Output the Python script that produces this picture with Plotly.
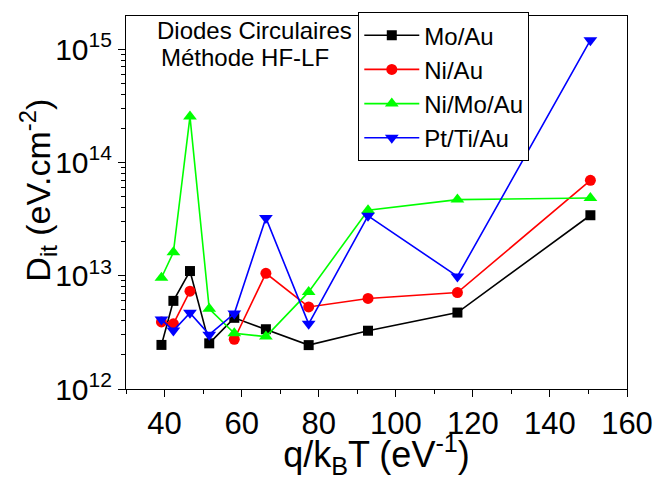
import plotly.graph_objects as go

# Inverse thermal energy q/kT (eV^-1)
q_kt = [39.2, 42.3, 46.6, 51.6, 58.1, 66.3, 77.4, 92.8, 116.0, 150.5]

# Interface state density Dit (eV^-1 cm^-2) per metallisation
dit_mo_au = [2.45e12, 6.0e12, 1.1e13, 2.53e12, 4.25e12, 3.37e12, 2.44e12, 3.27e12, 4.73e12, 3.42e13]
dit_ni_au = [3.91e12, 3.76e12, 7.3e12, None, 2.75e12, 1.05e13, 5.3e12, 6.3e12, 7.1e12, 6.95e13]
dit_ni_mo_au = [9.6e12, 1.61e13, 2.54e14, 5.1e12, 3.1e12, 2.9e12, 7.2e12, 3.78e13, 4.7e13, 4.86e13]
dit_pt_ti_au = [4.1e12, 3.28e12, 4.7e12, 3.02e12, 4.64e12, 3.24e13, 3.76e12, 3.38e13, 9.86e12, 1.2e15]

series_names = ["Mo/Au", "Ni/Au", "Ni/Mo/Au", "Pt/Ti/Au"]
series_colors = ["#000000", "#FF0000", "#00FF00", "#0000FF"]
series_symbols = ["square", "circle", "triangle-up", "triangle-down"]
series_sizes = [10, 11, 12, 12]

y_tick_vals = [1e12, 1e13, 1e14, 1e15]
y_tick_text = ["10<sup>12</sup>", "10<sup>13</sup>", "10<sup>14</sup>", "10<sup>15</sup>"]
y_minor_vals = [m * 10 ** e for e in range(12, 16) for m in range(2, 10)]

FONT = "Liberation Sans, Arial, sans-serif"

fig = go.Figure()
for name, vals, color, symbol, size in zip(
    series_names,
    [dit_mo_au, dit_ni_au, dit_ni_mo_au, dit_pt_ti_au],
    series_colors, series_symbols, series_sizes,
):
    fig.add_trace(go.Scatter(
        x=q_kt, y=vals, name=name, mode="lines+markers",
        line=dict(color=color, width=1.6),
        marker=dict(symbol=symbol, color=color, size=size, line=dict(width=0)),
        connectgaps=False,
    ))

# Plot area in pixels: left 126, right 635, top 12, bottom 394
L, R, T, B = 126, 635, 12, 394
W, H = 665, 480

def px_x(px):
    return (px - L) / (R - L)

def px_y(py):
    return (B - py) / (B - T)

fig.update_layout(
    width=W, height=H,
    margin=dict(l=L, r=W - R, t=T, b=H - B),
    paper_bgcolor="white", plot_bgcolor="white",
    font=dict(family=FONT, color="black"),
    showlegend=True,
    legend=dict(
        x=px_x(362), y=px_y(8), xanchor="left", yanchor="top",
        bordercolor="black", borderwidth=1, bgcolor="white",
        font=dict(size=24, family=FONT), tracegroupgap=0,
        itemwidth=55,
    ),
    xaxis=dict(
        range=[30, 160], tickmode="linear", tick0=40, dtick=20,
        showgrid=False, zeroline=False,
        showline=True, linecolor="black", linewidth=1.2, mirror=True,
        ticks="outside", ticklen=7, tickwidth=1.2, tickcolor="black",
        tickfont=dict(size=31, family=FONT),
        minor=dict(ticks="outside", ticklen=4, tickwidth=1.2, tickcolor="black",
                   tick0=30, dtick=10, showgrid=False),
        title=dict(text="q/k<sub>B</sub>T (eV<sup>-1</sup>)",
                   font=dict(size=36, family=FONT), standoff=2),
    ),
    yaxis=dict(
        type="log", range=[12, 15.293],
        tickmode="array", tickvals=y_tick_vals, ticktext=y_tick_text,
        showgrid=False, zeroline=False,
        showline=True, linecolor="black", linewidth=1.2, mirror=True,
        ticks="outside", ticklen=7, tickwidth=1.2, tickcolor="black",
        tickfont=dict(size=30, family=FONT),
        minor=dict(ticks="outside", ticklen=4, tickwidth=1.2, tickcolor="black",
                   tickmode="array", tickvals=y_minor_vals, showgrid=False),
    ),
    annotations=[
        dict(text="D<sub>it</sub> (eV.cm<sup>-2</sup>)", textangle=-90,
             xref="paper", yref="paper", x=px_x(10), y=px_y(190),
             xanchor="left", yanchor="middle", showarrow=False,
             font=dict(size=34, family=FONT)),
        dict(text="Diodes Circulaires", xref="paper", yref="paper",
             x=px_x(155), y=px_y(11), xanchor="left", yanchor="top",
             showarrow=False, font=dict(size=24, family=FONT)),
        dict(text="Méthode HF-LF", xref="paper", yref="paper",
             x=px_x(160), y=px_y(39), xanchor="left", yanchor="top",
             showarrow=False, font=dict(size=24, family=FONT)),
    ],
)

fig.write_html("out.html")
